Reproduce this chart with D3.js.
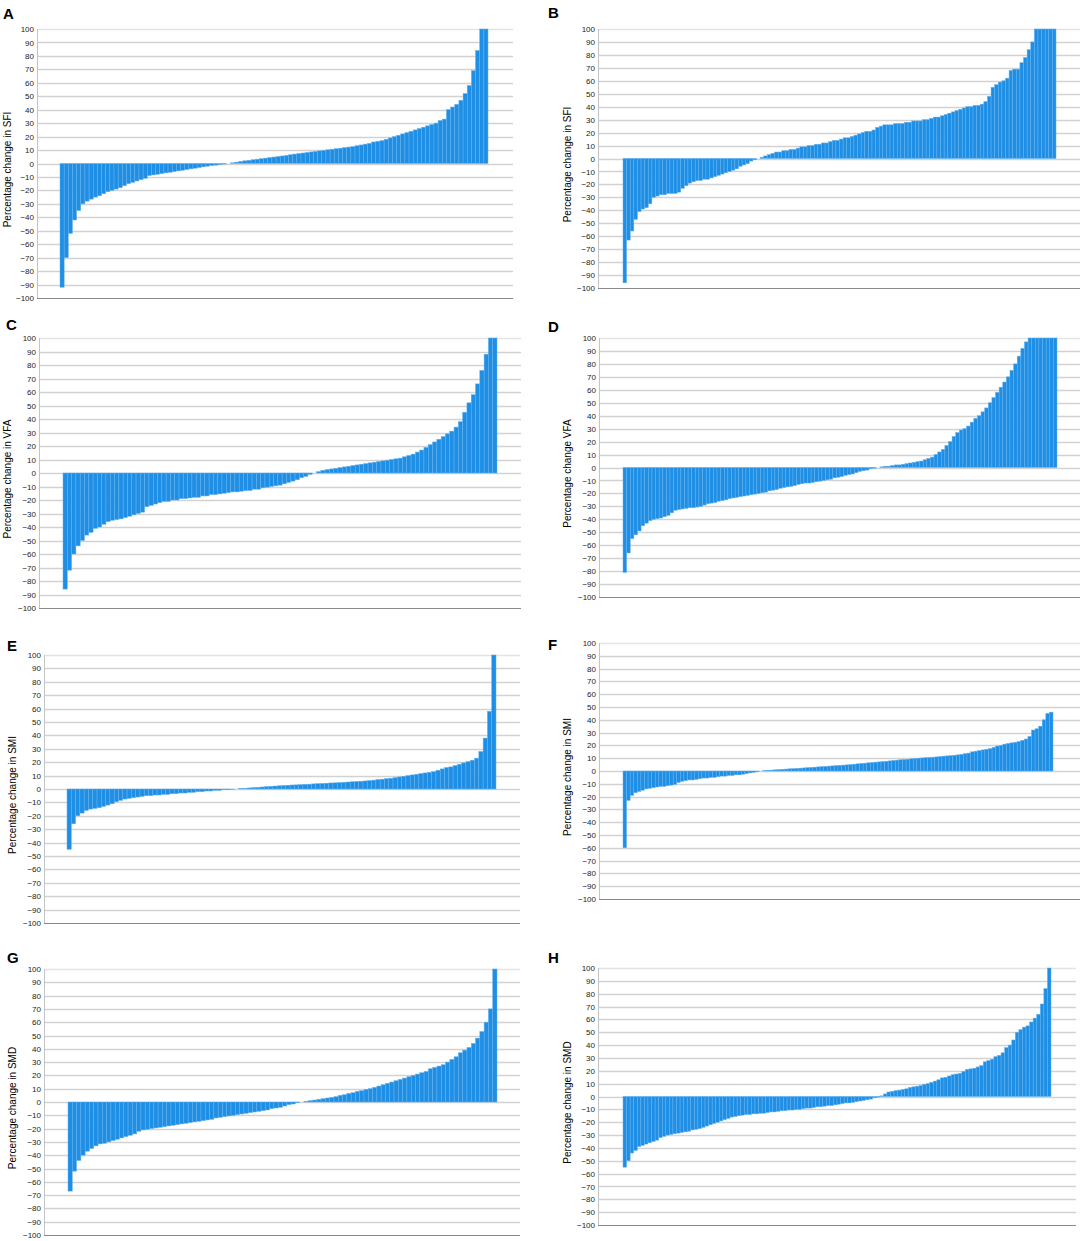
<!DOCTYPE html>
<html>
<head>
<meta charset="utf-8">
<script src="https://cdn.jsdelivr.net/npm/d3@7"></script>
<style>
	body { margin: 0; background: #fff; }
	svg { display: block; }
</style>
</head>
<body>
<div id="chart"></div>
<script>
// sorted percentage changes per subject
var sfiA = [-92,-70,-52,-42,-35,-30,-28,-26.5,-25,-24,-22.5,-21,-20,-19,-18,-16.5,-15,-14,-13,-12,
	-11,-9,-8.5,-8,-7.5,-7,-6.5,-6,-5.5,-5,-4.5,-4,-3.5,-3,-2.5,-2,-1.5,-1.2,-0.8,-0.4,
	0,0.5,1,1.5,2,2.4,2.8,3.2,3.6,4,4.4,4.8,5.2,5.6,6,6.5,7,7.4,7.8,8.2,8.6,9,9.4,9.8,10.2,10.6,
	11,11.4,11.8,12.2,12.6,13.2,13.8,14.4,15,16,16.5,17,18,19,20,21,22,23,24,25,26,27,28,29,30,
	32,33,40,42,44,47,52,58,69,84,100,100];
var sfiB = [-96,-63,-56,-47,-41,-39,-38,-35,-30,-29,-28,-28,-27,-27,-27,-26,-23,-21,-19,-18,
	-17,-17,-16,-16,-15,-14,-13,-12,-11,-10,-9,-8,-6,-5,-4,-2,-1,0,1,2,3,4,5,5,6,6,7,7,8,9,9,
	10,10,11,11,12,12,13,14,14,15,16,16,17,18,19,20,21,21,22,24,25,26,26,26,27,27,27,28,28,
	29,29,29,30,30,31,32,32,33,34,35,36,37,38,39,40,40,41,41,42,44,48,55,57,59,60,62,68,69,69,
	74,78,84,90,100,100,100,100,100,100];
var vfaC = [-86,-72,-60,-54,-50,-46,-44,-41,-40,-38,-36,-35,-34.5,-34,-33,-32,-31,-30,-29,-25,
	-24,-23,-22,-21,-21,-20,-20,-19,-19,-18.5,-18,-18,-17,-17,-16,-16,-15.5,-15,-14.5,-14,-14,
	-13.5,-13,-13,-12,-12,-11,-10.5,-10,-9.5,-9,-8,-7,-6,-5,-3.5,-2.5,-1,0,1,2,2.5,3,3.5,4,4.5,
	5,5.5,6,6.5,7,7.5,8,8.5,9,9.5,10,10.5,11,12,13,14,15.5,17,19,21,23,25,27,29,31,34,38,45,52,
	58,66,76,88,100,100];
var vfaD = [-81,-66,-55,-52,-49,-45,-43,-41,-40,-39.5,-39,-38,-37,-35,-33,-32.5,-32,-31.5,-31,-31,
	-30.5,-30,-29,-28,-27.5,-27,-26,-25.5,-25,-24,-23.5,-23,-22.5,-22,-21.5,-21,-20.5,-20,-19.5,
	-19,-18,-17.5,-17,-16,-15.5,-15,-14.5,-14,-13,-12.5,-12,-12,-11.5,-11,-10.5,-10,-9.5,-9,-8,
	-7.5,-7,-6,-5.5,-5,-4,-3,-2.5,-2,-1,-0.5,0,0.5,1,1,1.5,2,2,2.5,3,3.5,4,4.5,5,6,7,8,10,12,14,
	17,20,24,27,29,30,32,35,38,40,43,46,50,54,58,62,66,70,75,80,86,92,97,100,100,100,100,100,
	100,100,100];
var smiE = [-45,-26,-20,-18,-16,-15,-14.5,-14,-13,-12,-11,-9.5,-8.5,-7.5,-7,-6.5,-6,-5.5,-5,-5,
	-4.5,-4.5,-4,-4,-3.5,-3.5,-3,-3,-2.5,-2.5,-2,-2,-1.5,-1.5,-1,-1,-0.5,-0.5,-0.2,0,0.3,0.5,0.8,
	1,1.2,1.5,1.7,2,2.2,2.4,2.6,2.8,3,3.1,3.3,3.5,3.6,3.8,4,4.1,4.3,4.5,4.6,4.8,5,5.2,5.4,5.6,5.8,
	6,6.3,6.6,7,7.3,7.7,8,8.5,9,9.5,10,10.5,11,11.5,12,12.5,13,14,15,16,16.5,17.5,18.5,19.5,20.5,
	21.5,23,28,38,58,100];
var smiF = [-60,-23,-19,-17,-16,-15,-14,-13.5,-13,-12.5,-12,-12,-11.5,-11,-10.5,-9,-8,-7.5,-7,-7,
	-6.5,-6,-5.5,-5.5,-5,-5,-4.5,-4,-4,-3.5,-3.5,-3,-3,-2.5,-2,-1.5,-1,-0.5,0,0.3,0.5,0.7,0.9,1.1,
	1.3,1.5,1.7,1.8,2,2.2,2.4,2.6,2.8,3,3.2,3.4,3.6,3.8,4,4.2,4.4,4.6,4.8,5,5.3,5.6,5.9,6.1,6.4,
	6.6,6.9,7.1,7.4,7.6,7.9,8.2,8.5,8.8,9,9.2,9.5,9.7,10,10.2,10.4,10.6,10.8,11,11.3,11.6,11.8,12,
	12.3,12.6,13,13.5,14,15,15.5,16,16.5,17,17.5,18.5,19.5,20,21,21.5,22,22.5,23,24,25,27,32,33,
	35,40,45,46];
var smdG = [-67,-52,-44,-40,-37,-35,-33,-31.5,-31,-30,-29,-28,-27,-26,-25,-24,-22,-21,-20.5,-20,
	-19.5,-19,-18.5,-18,-17.5,-17,-16.5,-16,-15.5,-15,-14.5,-14,-13.5,-13,-12,-11.5,-11,-10.5,-10,
	-9.5,-9,-8.5,-8,-7.5,-7,-6.5,-6,-5,-4.5,-4,-3,-2,-1.5,-0.5,0,0.5,1,1.5,2,2.5,3,3.5,4,5,5.5,
	6.5,7,8,8.5,9.5,10,11,12,13,14,15,16,17,18,19,20,21,22,23,25,26,27,28,30,32,34,37,39,41,44,
	48,53,60,70,100];
var smdH = [-55,-50,-44,-42,-39,-38,-37,-36,-35,-34,-32,-31,-30,-29.5,-29,-28.5,-28,-27.5,-27,-26,
	-25.5,-25,-24,-23,-22,-21,-20,-19,-18,-17,-16,-15.5,-15,-14.5,-14,-14,-13.5,-13.5,-13,-13,
	-12.5,-12,-12,-11.5,-11,-11,-10.5,-10.5,-10,-10,-9.5,-9,-9,-8.5,-8,-8,-7.5,-7,-7,-6.5,-6,
	-5.5,-5,-5,-4.5,-4,-3.5,-3,-2.5,-2,-1,-0.5,0.5,2,3.5,4,4.5,5,5.5,6,7,7.5,8,8.5,9.5,10,11,12,
	13,14.5,15,16,17,17.5,18,19.5,21,21.5,22,23,24,27,28,29,31,32,34,38,40,44,50,52,54,55,58,61,
	64,72,84,100];

var panelLetters = ["A","B","C","D","E","F","G","H"];
var axisLabels = ["Percentage change in SFI","Percentage change in SFI",
	"Percentage change in VFA","Percentage change VFA",
	"Percentage change in SMI","Percentage change in SMI",
	"Percentage change in SMD","Percentage change in SMD"];
var seriesList = [sfiA, sfiB, vfaC, vfaD, smiE, smiF, smdG, smdH];
var tickValues = d3.range(-100, 101, 10);

// layout of each panel on the page (axis x, right end, top/bottom of scale, bar span)
var layout = [
	{ax: 37,  right: 513,  top: 29,  bottom: 298,  b0: 60,  b1: 488,  lx: 11,  ltx: 3,   lty: 19},
	{ax: 598, right: 1080, top: 29,  bottom: 288,  b0: 623, b1: 1056, lx: 571, ltx: 548, lty: 18},
	{ax: 39,  right: 521,  top: 338, bottom: 608,  b0: 63,  b1: 497,  lx: 11,  ltx: 6,   lty: 330},
	{ax: 599, right: 1080, top: 338, bottom: 597,  b0: 623, b1: 1057, lx: 571, ltx: 548, lty: 332},
	{ax: 44,  right: 520,  top: 655, bottom: 923,  b0: 67,  b1: 496,  lx: 16,  ltx: 7,   lty: 651},
	{ax: 599, right: 1080, top: 643, bottom: 899,  b0: 623, b1: 1053, lx: 571, ltx: 548, lty: 650},
	{ax: 44,  right: 520,  top: 969, bottom: 1235, b0: 68,  b1: 497,  lx: 16,  ltx: 7,   lty: 963},
	{ax: 598, right: 1076, top: 968, bottom: 1225, b0: 623, b1: 1051, lx: 571, ltx: 548, lty: 963}
];

var width = 1084, height = 1241;
var barFill = "#1f8fe6", barEdge = "#62b1ee";

var svg = d3.select("#chart").append("svg")
	.attr("width", width)
	.attr("height", height)
	.style("font-family", "'Liberation Sans', Arial, sans-serif");

function drawPanel(i) {
	var p = layout[i], data = seriesList[i];
	var g = svg.append("g").attr("class", "panel");

	var y = d3.scaleLinear().domain([-100, 100]).range([p.bottom, p.top]).clamp(true);
	var x = d3.scaleBand().domain(d3.range(data.length)).range([p.b0, p.b1]).padding(0);

	// horizontal grid
	g.selectAll(".grid").data(tickValues.filter(function (d) { return d > -100; }))
		.enter().append("line").attr("class", "grid")
			.attr("x1", p.ax).attr("x2", p.right)
			.attr("y1", function (d) { return Math.round(y(d)) + 0.5; })
			.attr("y2", function (d) { return Math.round(y(d)) + 0.5; })
			.attr("stroke", function (d) { return d == 100 ? "#e4e4e4" : "#d2d2d2"; })
			.attr("stroke-width", 1.3);

	// bars
	g.selectAll(".bar").data(data)
		.enter().append("rect").attr("class", "bar")
			.attr("x", function (d, j) { return x(j); })
			.attr("width", x.bandwidth())
			.attr("y", function (d) { return y(Math.max(d, 0)); })
			.attr("height", function (d) { return Math.abs(y(d) - y(0)); })
			.attr("fill", barFill)
			.attr("stroke", barEdge)
			.attr("stroke-width", 0.5);

	// axis lines
	g.append("line")
		.attr("x1", p.ax + 0.5).attr("x2", p.ax + 0.5)
		.attr("y1", p.top).attr("y2", p.bottom)
		.attr("stroke", "#c4c4c4").attr("stroke-width", 1);
	g.append("line")
		.attr("x1", p.ax).attr("x2", p.right)
		.attr("y1", Math.round(y(-100)) + 0.5).attr("y2", Math.round(y(-100)) + 0.5)
		.attr("stroke", "#8a8a8a").attr("stroke-width", 1.2);

	var yAxis = d3.axisLeft(y).tickValues(tickValues).tickSize(0).tickPadding(3);
	var ax = g.append("g").attr("transform", "translate(" + p.ax + ",0)").call(yAxis);
	ax.select(".domain").remove();
	ax.selectAll("text")
		.attr("font-size", 8)
		.attr("font-family", "'Liberation Sans', Arial, sans-serif")
		.attr("fill", "#1a1a1a");

	var midY = (p.top + p.bottom) / 2 + 6;
	g.append("text")
		.attr("transform", "translate(" + p.lx + "," + midY + ") rotate(-90)")
		.attr("text-anchor", "middle")
		.attr("font-size", 10)
		.attr("fill", "#000")
		.text(axisLabels[i]);

	g.append("text")
		.attr("x", p.ltx).attr("y", p.lty)
		.attr("font-size", 15)
		.attr("font-weight", "bold")
		.attr("fill", "#000")
		.text(panelLetters[i]);
}

for (var i = 0; i < layout.length; i++) {
	drawPanel(i);
}
</script>
</body>
</html>
